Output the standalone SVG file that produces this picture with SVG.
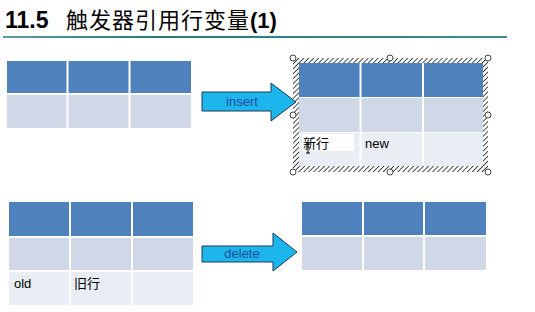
<svg xmlns="http://www.w3.org/2000/svg" width="535" height="312" viewBox="0 0 535 312">
<defs>
<style>
.hd{fill:#4F81BD}
.r2{fill:#D0D8E8}
.r3{fill:#E9EDF4}
.gl{stroke:#FFFFFF;stroke-width:2}
.cell{font-family:"Liberation Sans","Noto Sans CJK SC",sans-serif;font-size:13px;fill:#000}
.arrow{fill:#1CB5EC;stroke:#1A3A5A;stroke-width:1}
.atxt{font-family:"Liberation Sans",sans-serif;font-size:13px;fill:#1F4E9A;text-anchor:middle}
.hdl{fill:#FFFFFF;stroke:#444;stroke-width:1}
</style>
<pattern id="hatch" width="3.5" height="3.5" patternUnits="userSpaceOnUse" patternTransform="rotate(45)">
<rect width="3.5" height="3.5" fill="#FFFFFF"/>
<line x1="0" y1="0" x2="0" y2="3.5" stroke="#222" stroke-width="1.6"/>
</pattern>
<linearGradient id="tl" x1="0" x2="1" y1="0" y2="0">
<stop offset="0" stop-color="#5E9E9E"/>
<stop offset="0.3" stop-color="#1E7D7D"/>
<stop offset="1" stop-color="#3A9090"/>
</linearGradient>
</defs>
<rect width="535" height="312" fill="#FFFFFF"/>
<g id="title">
<text x="5" y="28" font-family="Liberation Sans,sans-serif" font-size="23" font-weight="bold" fill="#000">11.5</text>
<text x="66" y="28" font-family="'Noto Sans CJK SC',sans-serif" font-size="22" letter-spacing="1" fill="#000">触发器引用行变量<tspan font-family="'Liberation Sans',sans-serif" font-weight="bold" letter-spacing="0">(1)</tspan></text>
<rect x="3" y="36" width="504" height="2" fill="url(#tl)"/>
</g>
<g id="table-top-left">
<rect class="hd" x="7" y="61" width="184" height="32"/>
<rect class="r2" x="7" y="95" width="184" height="33"/>
<line class="gl" x1="67.5" y1="61" x2="67.5" y2="128"/>
<line class="gl" x1="129.5" y1="61" x2="129.5" y2="128"/>
</g>
<g id="table-top-right">
<rect class="hd" x="299" y="62" width="184" height="35"/>
<rect class="r2" x="299" y="98" width="184" height="34"/>
<rect class="r3" x="299" y="133" width="184" height="33"/>
<line class="gl" x1="360.5" y1="62" x2="360.5" y2="166"/>
<line class="gl" x1="423" y1="62" x2="423" y2="166"/>
<rect x="302" y="134" width="52" height="17" fill="#FFFFFF"/>
<text class="cell" x="303" y="148">新行</text>
<text class="cell" x="365" y="148">new</text>
<path d="M306 143h4M308 143v10M306 153h4" stroke="#000" stroke-width="1" fill="none"/>
</g>
<g id="selection">
<path d="M293 58H488V172H293Z M299 63V166H483V63Z" fill="url(#hatch)" fill-rule="evenodd"/>
<circle class="hdl" cx="293" cy="58" r="3"/>
<circle class="hdl" cx="390" cy="58" r="3"/>
<circle class="hdl" cx="488" cy="58" r="3"/>
<circle class="hdl" cx="293" cy="115" r="3"/>
<circle class="hdl" cx="488" cy="115" r="3"/>
<circle class="hdl" cx="293" cy="172" r="3"/>
<circle class="hdl" cx="390" cy="172" r="3"/>
<circle class="hdl" cx="488" cy="172" r="3"/>
</g>
<g id="table-bottom-left">
<rect class="hd" x="9" y="202" width="184" height="34"/>
<rect class="r2" x="9" y="238" width="184" height="32"/>
<rect class="r3" x="9" y="272" width="184" height="33"/>
<line class="gl" x1="70" y1="202" x2="70" y2="305"/>
<line class="gl" x1="132" y1="202" x2="132" y2="305"/>
<text class="cell" x="14" y="288">old</text>
<text class="cell" x="74" y="288">旧行</text>
</g>
<g id="table-bottom-right">
<rect class="hd" x="302" y="202" width="184" height="33"/>
<rect class="r2" x="302" y="237" width="184" height="33"/>
<line class="gl" x1="363" y1="202" x2="363" y2="270"/>
<line class="gl" x1="424" y1="202" x2="424" y2="270"/>
</g>
<g id="connectors">
<g id="insert-arrow">
<path class="arrow" d="M202 92H271V83L296 102L271 121V111H202Z"/>
<text class="atxt" x="242" y="106">insert</text>
</g>
<g id="delete-arrow">
<path class="arrow" d="M202 246H273V233L297 252L273 271V262H202Z"/>
<text class="atxt" x="242" y="258">delete</text>
</g>
</g>
</svg>
